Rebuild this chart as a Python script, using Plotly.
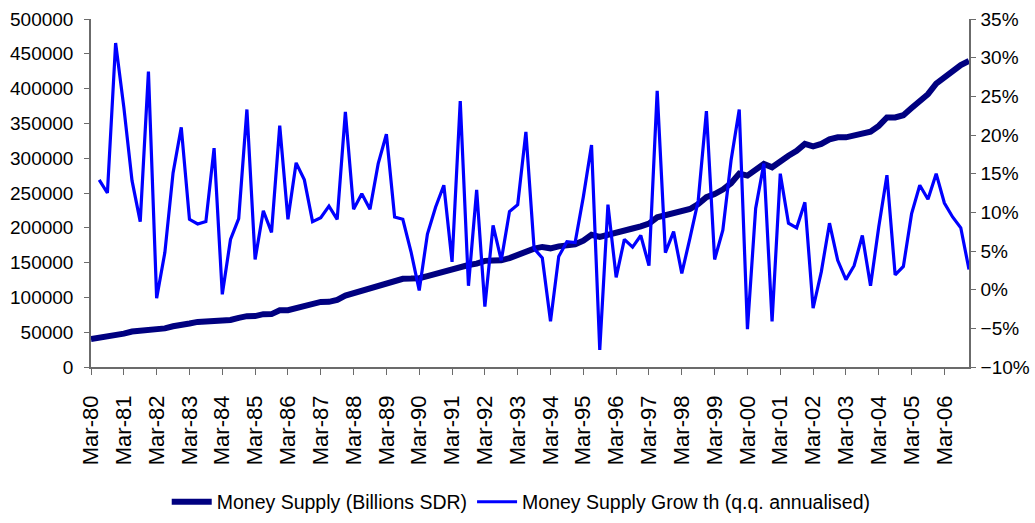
import plotly.graph_objects as go

# quarterly categories, Mar-80 .. Dec-06
years = list(range(80, 100)) + list(range(0, 7))
months = ['Mar', 'Jun', 'Sep', 'Dec']
quarters = [f'{m}-{y:02d}' for y in years for m in months]

# Money supply, billions SDR
money_supply = [
    40000, 42000, 42500, 45000, 48000, 51000, 52000, 54500, 55400, 55500,
    58500, 61500, 62500, 64800, 65000, 66500, 67300, 67500, 70500, 73000,
    73100, 75900, 76000, 81500, 81700, 84500, 87000, 90500, 93500, 93600,
    96500, 102500, 106000, 109000, 112500, 116000, 121000, 123500, 126800, 127000,
    127500, 130500, 133800, 136500, 139800, 144500, 146500, 148500, 152500, 153000,
    153300, 156500, 161000, 167000, 170000, 172500, 170500, 173300, 175000, 176200,
    181500, 190000, 187000, 190500, 193000, 195500, 199000, 202000, 206000, 215000,
    218500, 221500, 224000, 227000, 234000, 244000, 248500, 255000, 264000, 278000,
    275000, 282200, 291800, 287000, 296500, 303500, 310500, 320500, 317000, 320500,
    327000, 330000, 330000, 332500, 337200, 338100, 346500, 358600, 358600, 361800,
    372000, 383500, 392000, 407000, 416500, 425000, 433800, 439800,
]

# q.q. annualised growth, % (first quarter has no value)
growth = [
    None, 14.2, 12.5, 31.9, 23.6, 14.1, 8.8, 28.2, -1.1, 4.8,
    15.1, 21.0, 9.1, 8.5, 8.8, 18.3, -0.6, 6.5, 9.2, 23.3,
    3.9, 10.2, 7.4, 21.2, 9.1, 16.4, 14.2, 8.8, 9.3, 10.8,
    9.1, 23.0, 10.4, 12.4, 10.4, 16.3, 20.1, 9.4, 9.1, 4.9,
    -0.1, 7.2, 10.7, 13.5, 3.6, 24.4, 0.5, 12.9, -2.2, 8.3,
    3.8, 10.1, 11.0, 20.4, 5.3, 4.1, -4.1, 4.3, 6.2, 6.1,
    12.0, 18.7, -7.8, 11.0, 1.6, 6.5, 5.5, 7.0, 3.1, 25.7,
    4.8, 7.5, 2.1, 6.7, 11.5, 23.1, 3.9, 7.7, 16.7, 23.3,
    -5.1, 10.5, 16.3, -4.1, 15.0, 8.6, 8.0, 11.3, -2.4, 2.3,
    8.6, 3.8, 1.3, 3.1, 7.0, 0.5, 8.1, 14.8, 1.9, 3.0,
    9.8, 13.5, 11.7, 15.0, 11.2, 9.4, 8.0, 2.6,
]

tick_labels = [q for q in quarters if q.startswith('Mar')]

font = 'Liberation Sans, Arial, sans-serif'
axis_col = '#6b6b6b'

fig = go.Figure()
fig.add_trace(go.Scatter(x=quarters, y=money_supply, mode='lines',
                         name='Money Supply (Billions SDR)',
                         line=dict(color='#000080', width=6)))
fig.add_trace(go.Scatter(x=quarters, y=growth, mode='lines', yaxis='y2',
                         name='Money Supply Grow th (q.q. annualised)',
                         line=dict(color='#0000FF', width=3.2)))

fig.update_layout(
    width=1035, height=523,
    margin=dict(l=91, r=66, t=19, b=156),
    plot_bgcolor='white', paper_bgcolor='white',
    font=dict(family=font, size=19, color='black'),
    showlegend=True,
    legend=dict(orientation='h', x=0.49, xanchor='center',
                yref='container', y=0.04, yanchor='middle',
                font=dict(size=19.5), itemwidth=40, tracegroupgap=0),
    xaxis=dict(type='category', range=[0, len(quarters) - 1], automargin=False,
               tickmode='array', tickvals=tick_labels, ticktext=tick_labels,
               tickangle=-90, ticks='outside', ticklen=6, tickcolor=axis_col,
               showline=True, linecolor=axis_col, linewidth=1.5,
               showgrid=False, zeroline=False, tickfont=dict(size=22),
               ticklabelstandoff=12),
    yaxis=dict(range=[0, 500000], dtick=50000, tickformat='d', automargin=False,
               ticks='outside', ticklen=5, tickcolor=axis_col,
               showline=True, linecolor=axis_col, linewidth=1.5,
               showgrid=False, zeroline=False, ticklabelstandoff=7),
    yaxis2=dict(range=[-10, 35], dtick=5, ticksuffix='%', overlaying='y', side='right',
                automargin=False,
                ticks='outside', ticklen=5, tickcolor=axis_col,
                showline=True, linecolor=axis_col, linewidth=1.5,
                showgrid=False, zeroline=False, ticklabelstandoff=1),
)

# page body margin would push the figure 8px right/down
fig.write_html('out.html', config={'displayModeBar': False},
               post_script="document.body.style.margin='0px';")
